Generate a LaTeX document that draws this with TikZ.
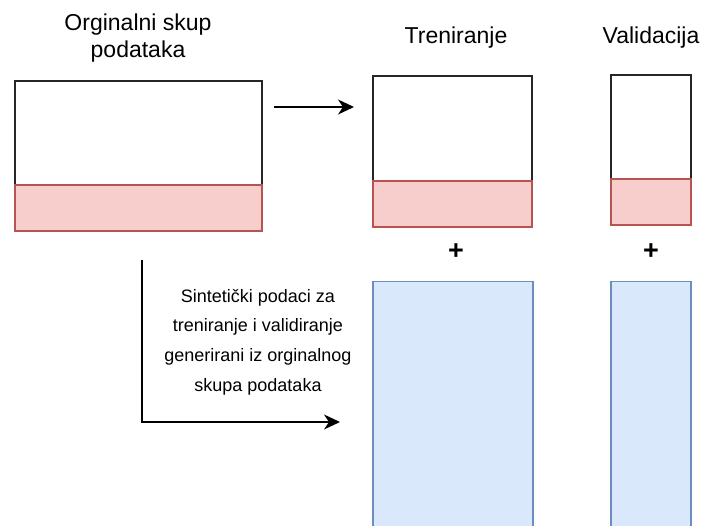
\documentclass[tikz,border=0pt]{standalone}
\usepackage{fontspec}
\setmainfont{Liberation Sans}
\usetikzlibrary{arrows.meta}
\definecolor{redfill}{HTML}{F8CECC}
\definecolor{redline}{HTML}{B85450}
\definecolor{bluefill}{HTML}{DAE8FC}
\definecolor{blueline}{HTML}{6C8EBF}
\tikzset{
    part/.style={draw, line width=1.5pt, inner sep=0pt},
    whitepart/.style={part, draw=black!85, fill=white},
    redpart/.style={part, draw=redline, fill=redfill, minimum height=46pt},
    bluepart/.style={part, draw=blueline, fill=bluefill},
    title/.style={font=\fontsize{23}{27}\selectfont, align=center, inner sep=0pt},
    note/.style={font=\fontsize{18}{29.7}\selectfont, align=center, inner sep=0pt},
    plus/.style={font=\fontsize{27}{30}\selectfont\bfseries, inner sep=0pt},
    flow/.style={line width=1.5pt, -{Stealth[length=16pt, width=15pt, inset=5pt]}}
}

\begin{document}
\begin{tikzpicture}[x=1pt, y=-1pt]
    \useasboundingbox (0,0) rectangle (704,526);

    % place nodes
    \node[title] at (138, 38)   (origtitle) {Orginalni skup\\podataka};
    \node[title] at (456, 38)   (traintitle) {Treniranje};
    \node[title] at (651, 38)   (valtitle) {Validacija};

    \node[whitepart, minimum width=247pt, minimum height=104pt] at (138.5, 133)   (orig) {};
    \node[redpart, minimum width=247pt] at (138.5, 208)   (origred) {};

    \node[whitepart, minimum width=159pt, minimum height=105pt] at (452.5, 128.5) (train) {};
    \node[redpart, minimum width=159pt] at (452.5, 204)   (trainred) {};

    \node[whitepart, minimum width=80pt, minimum height=104pt] at (651, 127)   (val) {};
    \node[redpart, minimum width=80pt] at (651, 202)   (valred) {};

    \node[plus] at (456, 252)   (trainplus) {+};
    \node[plus] at (651, 252)   (valplus) {+};

    \node[bluepart, minimum width=160pt, minimum height=260pt, anchor=north] at (453, 281)   (trainsyn) {};
    \node[bluepart, minimum width=80pt, minimum height=260pt, anchor=north] at (651, 281)   (valsyn) {};

    \node[note] at (258, 342)   (synnote) {Sintetički podaci za\\treniranje i validiranje\\generirani iz orginalnog\\skupa podataka};

    \coordinate (splitstart) at (274, 107);
    \coordinate (splitend) at (354, 107);
    \coordinate (synstart) at (142, 260);
    \coordinate (synend) at (340, 422);

    % draw edges
    \draw[flow] (splitstart) -- (splitend);
    \draw[flow] (synstart) |- (synend);
\end{tikzpicture}
\end{document}
